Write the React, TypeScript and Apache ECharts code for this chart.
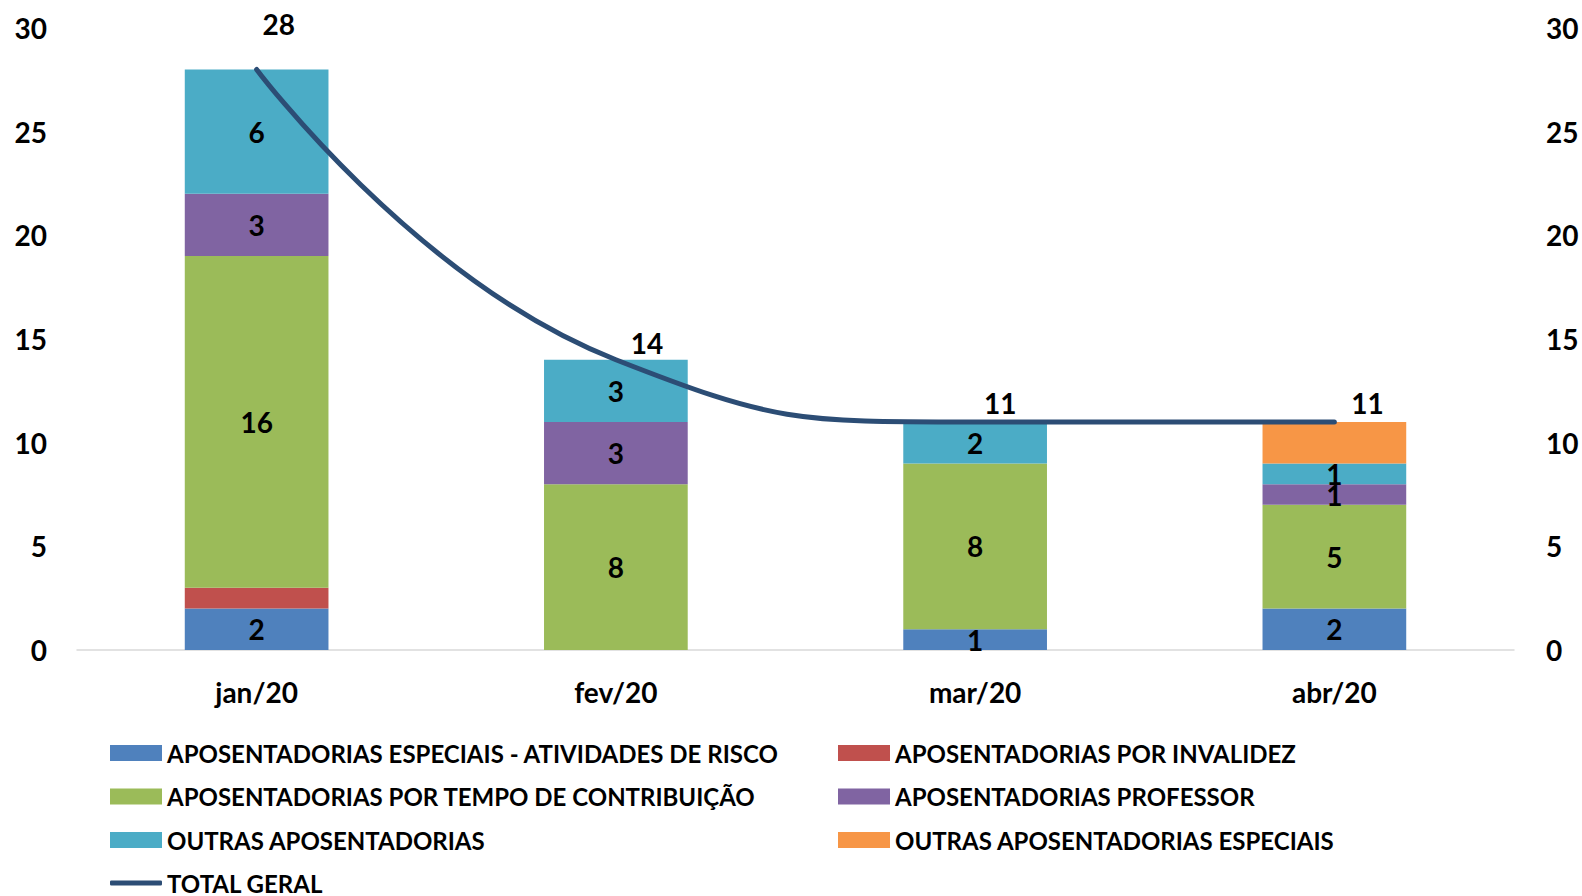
import React, { useEffect, useRef } from "react";
import * as echarts from "echarts";

const categories = ["jan/20", "fev/20", "mar/20", "abr/20"];
const especiaisRisco = [2, 0, 1, 2];
const invalidez = [1, 0, 0, 0];
const tempoContribuicao = [16, 8, 8, 5];
const professor = [3, 3, 0, 1];
const outras = [6, 3, 2, 1];
const outrasEspeciais = [0, 0, 0, 2];
const totalGeral = [28, 14, 11, 11];
const yTicks = { min: 0, max: 30, interval: 5 };

const totalLabelOffsets = [[22, -26], [31, 2], [25, 0], [33, 0]];

const FONT = "Lato, 'Open Sans', sans-serif";

export default function App() {
  const ref = useRef<HTMLDivElement>(null);
  useEffect(() => {
    const chart = echarts.init(ref.current!, null, { renderer: "svg" });
    const barLabel = {
      show: true,
      position: "inside",
      color: "#000",
      fontWeight: "bold",
      fontSize: 28,
      fontFamily: FONT,
      formatter: (p: any) => (p.value ? String(p.value) : ""),
    };
    const mkBar = (name: string, data: number[], color: string, showLabel: boolean) => ({
      name,
      type: "bar",
      stack: "s",
      barWidth: "40%",
      data,
      itemStyle: { color },
      label: showLabel ? barLabel : { show: false },
    });
    const legendText = { color: "#000", fontWeight: "bold", fontSize: 24, fontFamily: FONT, lineHeight: 24 };
    chart.setOption({
      animation: false,
      grid: { left: 77, right: 68, top: 28, bottom: 246 },
      xAxis: {
        type: "category",
        data: categories,
        axisLine: { lineStyle: { color: "#D9D9D9", width: 1.5 } },
        axisTick: { show: false },
        axisLabel: { color: "#000", fontWeight: "bold", fontSize: 28, fontFamily: FONT, margin: 28 },
      },
      yAxis: [0, 1].map((i) => ({
        type: "value",
        min: yTicks.min,
        max: yTicks.max,
        interval: yTicks.interval,
        position: i === 0 ? "left" : "right",
        splitLine: { show: false },
        axisLine: { show: false },
        axisTick: { show: false },
        axisLabel: {
          color: "#000",
          fontWeight: "bold",
          fontSize: 28,
          fontFamily: FONT,
          margin: i === 0 ? 30 : 32,
        },
      })),
      legend: [
        {
          left: 105,
          top: 736,
          orient: "vertical",
          itemWidth: 52,
          itemHeight: 16,
          itemGap: 19.5,
          icon: "rect",
          textStyle: legendText,
          data: [
            "APOSENTADORIAS ESPECIAIS - ATIVIDADES DE RISCO",
            "APOSENTADORIAS POR TEMPO DE CONTRIBUIÇÃO",
            "OUTRAS APOSENTADORIAS",
          ],
        },
        {
          left: 833,
          top: 736,
          orient: "vertical",
          itemWidth: 52,
          itemHeight: 16,
          itemGap: 19.5,
          icon: "rect",
          textStyle: legendText,
          data: [
            "APOSENTADORIAS POR INVALIDEZ",
            "APOSENTADORIAS PROFESSOR",
            "OUTRAS APOSENTADORIAS ESPECIAIS",
          ],
        },
        {
          left: 105,
          top: 866,
          itemWidth: 52,
          itemHeight: 5,
          icon: "roundRect",
          textStyle: legendText,
          data: ["TOTAL GERAL"],
        },
      ],
      series: [
        mkBar("APOSENTADORIAS ESPECIAIS - ATIVIDADES DE RISCO", especiaisRisco, "#4F81BD", true),
        mkBar("APOSENTADORIAS POR INVALIDEZ", invalidez, "#C0504D", false),
        mkBar("APOSENTADORIAS POR TEMPO DE CONTRIBUIÇÃO", tempoContribuicao, "#9BBB59", true),
        mkBar("APOSENTADORIAS PROFESSOR", professor, "#8064A2", true),
        mkBar("OUTRAS APOSENTADORIAS", outras, "#4BACC6", true),
        mkBar("OUTRAS APOSENTADORIAS ESPECIAIS", outrasEspeciais, "#F79646", false),
        {
          name: "TOTAL GERAL",
          type: "line",
          yAxisIndex: 1,
          smooth: 0.5,
          symbol: "circle",
          symbolSize: 0.1,
          showSymbol: true,
          z: 5,
          data: totalGeral.map((v, i) => ({
            value: v,
            label: { offset: totalLabelOffsets[i] },
          })),
          lineStyle: { color: "#2C4D75", width: 5, cap: "round" },
          itemStyle: { color: "#2C4D75" },
          label: {
            show: true,
            position: "top",
            distance: 5,
            color: "#000",
            fontWeight: "bold",
            fontSize: 28,
            fontFamily: FONT,
          },
        },
      ],
    });
    return () => chart.dispose();
  }, []);
  return (
    <div
      ref={ref}
      style={{ position: "fixed", left: 0, top: 0, width: 1582, height: 896, background: "#fff" }}
    />
  );
}
